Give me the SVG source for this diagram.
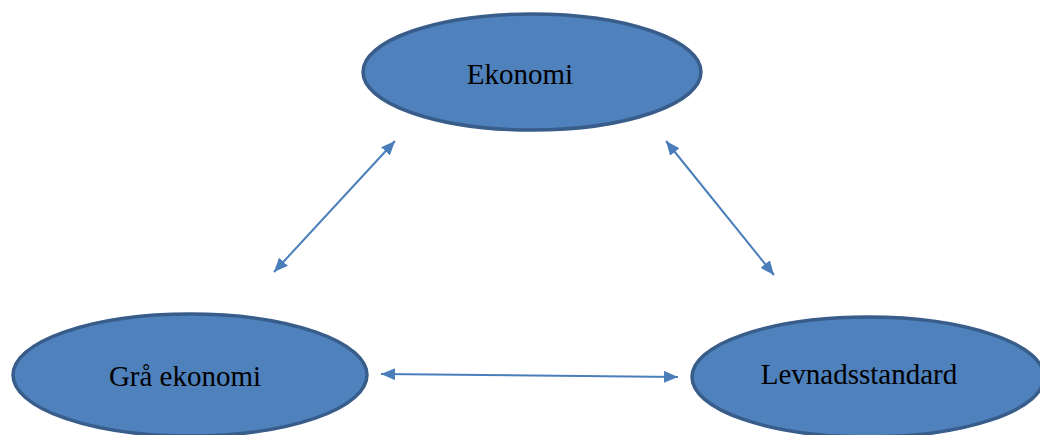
<svg xmlns="http://www.w3.org/2000/svg" width="1040" height="435" viewBox="0 0 1040 435">
<style>
.node ellipse{fill:#4f81bd;stroke:#385d8a;stroke-width:3.5}
.node text{font-family:"Liberation Serif","Times New Roman",serif;font-size:29px;fill:#000;text-anchor:middle}
.conn line{stroke:#4a7ebb;stroke-width:2}
</style>
<defs>
<marker id="ah" viewBox="0 0 14 12" refX="14" refY="6" markerWidth="14" markerHeight="12" markerUnits="userSpaceOnUse" orient="auto-start-reverse">
<path d="M0,0 L14,6 L0,12 Z" fill="#4a7ebb"/>
</marker>
</defs>
<rect width="1040" height="435" fill="#fff"/>
<g id="ekonomi" class="node">
<ellipse cx="532" cy="72" rx="169" ry="58"/>
<text x="520" y="84">Ekonomi</text>
</g>
<g id="gra-ekonomi" class="node">
<ellipse cx="190" cy="375" rx="177" ry="61"/>
<text x="185" y="386">Grå ekonomi</text>
</g>
<g id="levnadsstandard" class="node">
<ellipse cx="868" cy="377" rx="176" ry="60"/>
<text x="859" y="384">Levnadsstandard</text>
</g>
<g id="connectors" class="conn">
<line x1="274" y1="272" x2="395" y2="141" marker-start="url(#ah)" marker-end="url(#ah)"/>
<line x1="666" y1="141" x2="774" y2="275" marker-start="url(#ah)" marker-end="url(#ah)"/>
<line x1="381" y1="374" x2="678" y2="377" marker-start="url(#ah)" marker-end="url(#ah)"/>
</g>
</svg>
